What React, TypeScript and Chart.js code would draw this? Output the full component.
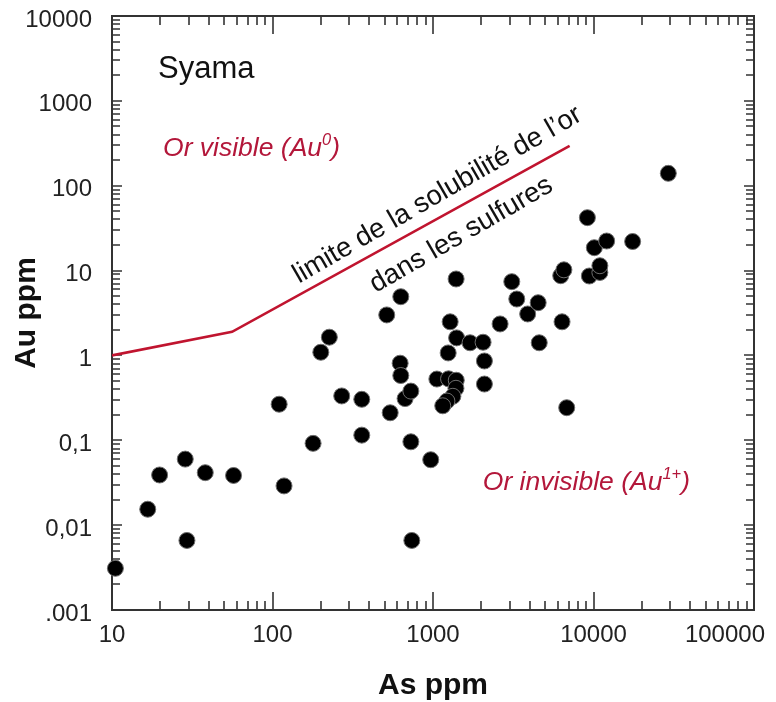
import React, { useEffect, useRef } from "react";
import { Chart, registerables } from "chart.js";

Chart.register(...registerables);

// ---- data ----
const asPpm = [
  10.5, 16.7, 19.8, 28.6, 29.3, 38.1, 57.2, 110, 118, 179, 200, 226, 270, 360, 360,
  515, 541, 630, 624, 630, 670, 728, 728, 738, 968, 1057, 1250, 1396, 1390, 1330,
  1221, 1150, 1243, 1279, 1393, 1403, 1702, 2051, 2091, 2091, 2618, 3097, 3327,
  3890, 4520, 4590, 6250, 6540, 6368, 6810, 9160, 10120, 12080, 17530, 9420,
  10960, 10960, 29240,
];
const auPpm = [
  0.0031, 0.0154, 0.039, 0.06, 0.0066, 0.0415, 0.0385, 0.266, 0.029, 0.092, 1.09,
  1.64, 0.333, 0.304, 0.115, 3.0, 0.211, 4.92, 0.81, 0.58, 0.31, 0.38, 0.096, 0.0066,
  0.059, 0.527, 0.53, 0.51, 0.41, 0.33, 0.29, 0.255, 1.07, 2.49, 7.96, 1.61, 1.41,
  1.43, 0.86, 0.46, 2.35, 7.4, 4.62, 3.08, 4.18, 1.41, 8.7, 10.2, 2.49, 0.242, 42,
  18.6, 22.3, 22, 8.63, 9.5, 11.4, 140,
];
const limitAs = [10, 56, 7100];
const limitAu = [1, 1.9, 295];

const xTickValues = [10, 100, 1000, 10000, 100000];
const xTickLabels = ["10", "100", "1000", "10000", "100000"];
const yTickValues = [0.001, 0.01, 0.1, 1, 10, 100, 1000, 10000];
const yTickLabels = [".001", "0,01", "0,1", "1", "10", "100", "1000", "10000"];

const xTitle = "As ppm";
const yTitle = "Au ppm";
const siteLabel = "Syama";
const limitLine1 = "limite de la solubilité de l\u2019or";
const limitLine2 = "dans les sulfures";

const FONT = '"Liberation Sans", Arial, Helvetica, sans-serif';
const RED_LINE = "#c0142f";
const RED_TEXT = "#b3173a";

type Part = { t: string; sup?: boolean };

function drawRich(ctx: CanvasRenderingContext2D, x: number, y: number, parts: Part[], size: number, color: string, italic: boolean) {
  let cx = x;
  ctx.fillStyle = color;
  ctx.textAlign = "left";
  ctx.textBaseline = "alphabetic";
  for (const p of parts) {
    const s = p.sup ? size * 0.62 : size;
    ctx.font = `${italic ? "italic " : ""}${s}px ${FONT}`;
    ctx.fillText(p.t, cx, p.sup ? y - size * 0.42 : y);
    cx += ctx.measureText(p.t).width;
  }
}

const framePlugin = {
  id: "frameTicks",
  beforeDatasetsDraw(chart: any) {
    const { ctx, chartArea: a, scales } = chart;
    const x = scales.x;
    const y = scales.y;
    ctx.save();
    ctx.strokeStyle = "#333";
    ctx.lineWidth = 1.6;
    ctx.beginPath();
    for (let e = 1; e <= 4; e++) {
      for (let m = 1; m <= 9; m++) {
        const v = m * Math.pow(10, e);
        if (v <= 10 || v >= 100000) continue;
        const px = Math.round(x.getPixelForValue(v));
        const len = m === 1 ? 18 : 9;
        ctx.moveTo(px, a.bottom);
        ctx.lineTo(px, a.bottom - len);
        ctx.moveTo(px, a.top);
        ctx.lineTo(px, a.top + len);
      }
    }
    for (let e = -3; e <= 3; e++) {
      for (let m = 1; m <= 9; m++) {
        const v = m * Math.pow(10, e);
        if (v <= 0.0010001 || v >= 9999) continue;
        const py = Math.round(y.getPixelForValue(v));
        const len = m === 1 ? 10 : 8;
        ctx.moveTo(a.left, py);
        ctx.lineTo(a.left + len, py);
        ctx.moveTo(a.right, py);
        ctx.lineTo(a.right - len, py);
      }
    }
    ctx.stroke();
    ctx.lineWidth = 2;
    ctx.strokeRect(a.left, a.top, a.right - a.left, a.bottom - a.top);
    ctx.restore();
  },
  afterDraw(chart: any) {
    const { ctx, chartArea: a, scales } = chart;
    const x = scales.x;
    const y = scales.y;
    ctx.save();
    // x tick labels
    ctx.font = `24px ${FONT}`;
    ctx.fillStyle = "#222";
    ctx.textAlign = "center";
    ctx.textBaseline = "middle";
    xTickValues.forEach((v, i) => {
      const w = ctx.measureText(xTickLabels[i]).width;
      const px = Math.min(x.getPixelForValue(v), chart.width - 11 - w / 2);
      ctx.fillText(xTickLabels[i], px, a.bottom + 25);
    });

    // annotations
    ctx.fillStyle = "#111";
    ctx.font = `31px ${FONT}`;
    ctx.textAlign = "left";
    ctx.textBaseline = "alphabetic";
    ctx.fillText(siteLabel, x.getPixelForValue(19.35), y.getPixelForValue(1859));

    drawRich(ctx, x.getPixelForValue(20.8), y.getPixelForValue(224),
      [{ t: "Or visible (Au" }, { t: "0", sup: true }, { t: ")" }], 26.5, RED_TEXT, true);
    drawRich(ctx, x.getPixelForValue(2042), y.getPixelForValue(0.0259),
      [{ t: "Or invisible (Au" }, { t: "1+", sup: true }, { t: ")" }], 26.5, RED_TEXT, true);

    const ang = (-30 * Math.PI) / 180;
    ctx.fillStyle = "#111";
    ctx.font = `27.5px ${FONT}`;
    ctx.save();
    ctx.translate(x.getPixelForValue(146), y.getPixelForValue(7.0));
    ctx.rotate(ang);
    ctx.fillText(limitLine1, 0, 0);
    ctx.restore();
    ctx.save();
    ctx.translate(x.getPixelForValue(440), y.getPixelForValue(5.43));
    ctx.rotate(ang);
    ctx.fillText(limitLine2, 0, 0);
    ctx.restore();

    ctx.restore();
  },
};

export default function App() {
  const ref = useRef<HTMLCanvasElement>(null);
  useEffect(() => {
    document.body.style.margin = "0";
    const canvas = ref.current;
    if (!canvas) return;
    const points = asPpm.map((v, i) => ({ x: v, y: auPpm[i] }));
    const limit = limitAs.map((v, i) => ({ x: v, y: limitAu[i] }));
    const chart = new Chart(canvas, {
      type: "scatter",
      data: {
        datasets: [
          {
            type: "line",
            data: limit,
            borderColor: RED_LINE,
            borderWidth: 2.6,
            pointRadius: 0,
            fill: false,
            tension: 0,
            order: 2,
          } as any,
          {
            data: points,
            pointRadius: 8,
            pointHoverRadius: 8,
            backgroundColor: "#000",
            borderColor: "#6e6e6e",
            borderWidth: 1,
            clip: false,
            order: 1,
          } as any,
        ],
      },
      options: {
        responsive: false,
        animation: false,
        devicePixelRatio: 1,
        layout: { padding: { top: 16, right: 22, left: 0, bottom: 0 } },
        plugins: { legend: { display: false }, tooltip: { enabled: false } },
        scales: {
          x: {
            type: "logarithmic",
            min: 10,
            max: 100000,
            position: "bottom",
            grid: { display: false, drawTicks: false },
            border: { display: false },
            ticks: { display: false },
            afterBuildTicks: (s: any) => {
              s.ticks = xTickValues.map((v) => ({ value: v }));
            },
            afterFit: (s: any) => {
              s.height = 92;
              s.paddingLeft = 0;
              s.paddingRight = 0;
            },
            title: {
              display: true,
              text: xTitle,
              color: "#111",
              font: { family: FONT, size: 30, weight: "bold" },
              padding: { top: 0, bottom: -2 },
            },
          },
          y: {
            type: "logarithmic",
            min: 0.001,
            max: 10000,
            position: "left",
            grid: { display: false, drawTicks: false },
            border: { display: false },
            afterBuildTicks: (s: any) => {
              s.ticks = yTickValues.map((v) => ({ value: v }));
            },
            afterFit: (s: any) => {
              s.width = 112;
              s.paddingTop = 0;
              s.paddingBottom = 0;
            },
            ticks: {
              color: "#222",
              font: { family: FONT, size: 24 },
              padding: 20,
              labelOffset: 4,
              autoSkip: false,
              callback: (value: any) => {
                const i = yTickValues.findIndex((t) => Math.abs(Math.log10(t) - Math.log10(Number(value))) < 1e-6);
                return i >= 0 ? yTickLabels[i] : "";
              },
            },
            title: {
              display: true,
              text: yTitle,
              color: "#111",
              font: { family: FONT, size: 30, weight: "bold" },
              padding: { top: 9, bottom: 0 },
            },
          },
        },
      } as any,
      plugins: [framePlugin],
    });
    return () => chart.destroy();
  }, []);
  return (
    <div style={{ width: 776, height: 702 }}>
      <canvas ref={ref} width={776} height={702} style={{ display: "block", width: 776, height: 702 }} />
    </div>
  );
}
